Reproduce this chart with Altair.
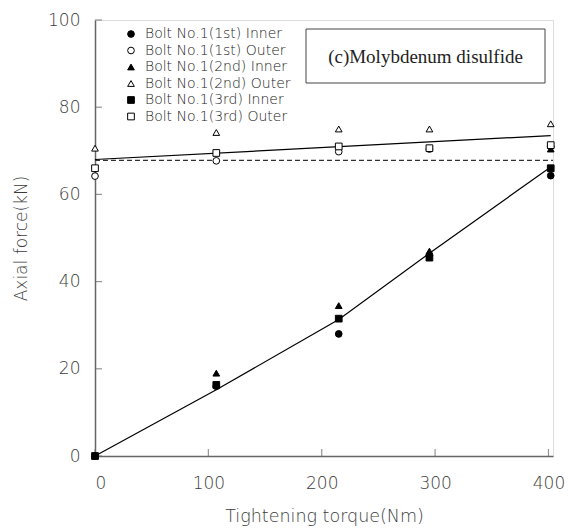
import altair as alt
import pandas as pd

# Tightening torque (Nm) at each measurement step
torque = [0, 107, 215, 295, 402]

series_names = [
    "Bolt No.1(1st) Inner",
    "Bolt No.1(1st) Outer",
    "Bolt No.1(2nd) Inner",
    "Bolt No.1(2nd) Outer",
    "Bolt No.1(3rd) Inner",
    "Bolt No.1(3rd) Outer",
]

# Axial force (kN) per series
first_inner = [0, 16.0, 28.0, 46.0, 64.3]
first_outer = [64.2, 67.7, 69.8, 70.4, 71.0]
second_inner = [0, 19.0, 34.5, 47.0, 70.4]
second_outer = [70.6, 74.2, 75.0, 75.0, 76.2]
third_inner = [0, 16.3, 31.5, 45.5, 66.0]
third_outer = [66.0, 69.5, 71.0, 70.6, 71.3]

series_values = [first_inner, first_outer, second_inner, second_outer, third_inner, third_outer]
shapes = ["circle", "circle", "triangle-up", "triangle-up", "square", "square"]
fills = ["black", "white", "black", "white", "black", "white"]
strokes = ["black"] * 6

# Fitted curves
inner_fit_x = [0, 107, 215, 295, 402]
inner_fit_y = [0, 15.2, 31.3, 46.5, 66.3]
outer_fit_x = [0, 402]
outer_fit_y = [68.0, 73.5]
initial_x = [0, 404]
initial_y = [67.8, 67.8]

x_ticks = [0, 100, 200, 300, 400]
y_ticks = [0, 20, 40, 60, 80, 100]

rows = []
for name, vals in zip(series_names, series_values):
    for t, v in zip(torque, vals):
        rows.append({"series": name, "torque": t, "force": v})
points_df = pd.DataFrame(rows)

FONT = "DejaVu Sans"
WEIGHT = 200
GRAY = "#666666"
TEXT = "#3c3c3c"

x_scale = alt.Scale(domain=[0, 404], nice=False, zero=False)
y_scale = alt.Scale(domain=[0, 100], nice=False)

x_enc = alt.X(
    "torque:Q", scale=x_scale,
    axis=alt.Axis(
        title="Tightening torque(Nm)", values=x_ticks, ticks=False, grid=False,
        labelFontSize=17, labelFont=FONT, labelFontWeight=WEIGHT, labelColor=TEXT, labelPadding=19,
        titleFont=FONT, titleFontSize=17.5, titleFontWeight=WEIGHT, titleColor=TEXT,
        titlePadding=16, domainColor=GRAY, domainWidth=1.5,
    ),
)
y_enc = alt.Y(
    "force:Q", scale=y_scale,
    axis=alt.Axis(
        title="Axial force(kN)", values=y_ticks, ticks=False, grid=False,
        labelFontSize=17, labelFont=FONT, labelFontWeight=WEIGHT, labelColor=TEXT, labelPadding=15,
        titleFont=FONT, titleFontSize=17, titleFontWeight=WEIGHT, titleColor=TEXT,
        titlePadding=17, domainColor=GRAY, domainWidth=1.5,
    ),
)

legend = alt.Legend(
    title=None, orient="none", legendX=29, legendY=7, padding=0,
    labelFont=FONT, labelFontSize=14, labelFontWeight=WEIGHT, labelColor="#222222", labelOffset=7,
    rowPadding=2.5, symbolStrokeColor="black", symbolStrokeWidth=1,
    symbolSize=45,
)

points = alt.Chart(points_df).mark_point(
    strokeWidth=1, size=45, opacity=1, fillOpacity=1
).encode(
    x=x_enc,
    y=y_enc,
    shape=alt.Shape("series:N", scale=alt.Scale(domain=series_names, range=shapes), legend=legend),
    fill=alt.Fill("series:N", scale=alt.Scale(domain=series_names, range=fills), legend=legend),
    stroke=alt.Stroke("series:N", scale=alt.Scale(domain=series_names, range=strokes), legend=legend),
)

inner_line = alt.Chart(pd.DataFrame({"torque": inner_fit_x, "force": inner_fit_y})).mark_line(
    color="black", strokeWidth=1.2
).encode(x="torque:Q", y="force:Q")

outer_line = alt.Chart(pd.DataFrame({"torque": outer_fit_x, "force": outer_fit_y})).mark_line(
    color="black", strokeWidth=1.2
).encode(x="torque:Q", y="force:Q")

initial_line = alt.Chart(pd.DataFrame({"torque": initial_x, "force": initial_y})).mark_line(
    color="#333333", strokeWidth=1.2, strokeDash=[5, 3]
).encode(x="torque:Q", y="force:Q")

# Inward ticks along the bottom and left axes
x_tick_marks = alt.Chart(pd.DataFrame({"torque": x_ticks})).mark_tick(
    orient="vertical", size=7, thickness=1.2, color=GRAY, yOffset=-3.5
).encode(x="torque:Q", y=alt.datum(0))

y_tick_marks = alt.Chart(pd.DataFrame({"force": y_ticks})).mark_tick(
    orient="horizontal", size=7, thickness=1.2, color=GRAY, xOffset=3.5
).encode(y="force:Q", x=alt.datum(0))

# Boxed panel label
label_box = alt.Chart(pd.DataFrame({"k": [0]})).mark_rect(
    fill="white", stroke="#444444", strokeWidth=1
).encode(x=alt.value(211), x2=alt.value(450), y=alt.value(9), y2=alt.value(63))

label_text = alt.Chart(pd.DataFrame({"k": [0]})).mark_text(
    text="(c)Molybdenum disulfide", font="Liberation Serif", fontSize=19,
    color="#222222", align="center", baseline="middle"
).encode(x=alt.value(330.5), y=alt.value(37))

chart = alt.layer(
    label_box, label_text, initial_line, outer_line, inner_line,
    x_tick_marks, y_tick_marks, points,
).properties(
    width=458, height=436,
    autosize=alt.AutoSizeParams(type="none"),
    padding={"left": 95, "top": 20, "right": 15, "bottom": 74},
).configure_view(
    stroke=GRAY, strokeWidth=1.5
).configure(background="white")

chart.save("out.html", embed_options={"renderer": "svg", "actions": False})
